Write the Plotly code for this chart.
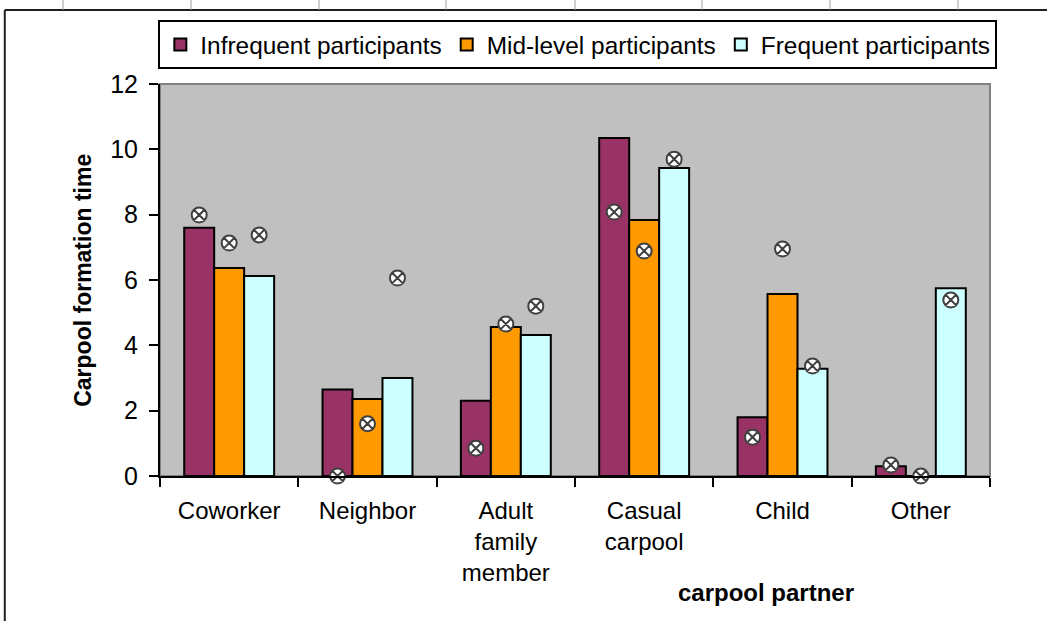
import plotly.graph_objects as go

# categories and values
partners = ["Coworker", "Neighbor", "Adult<br>family<br>member", "Casual<br>carpool", "Child", "Other"]
series_names = ["Infrequent participants", "Mid-level participants", "Frequent participants"]

infrequent_bar = [7.6, 2.65, 2.3, 10.35, 1.8, 0.3]
midlevel_bar = [6.37, 2.36, 4.56, 7.84, 5.57, 0.0]
frequent_bar = [6.12, 3.0, 4.32, 9.43, 3.28, 5.75]

infrequent_pt = [7.99, 0.0, 0.85, 8.08, 1.19, 0.34]
midlevel_pt = [7.13, 1.6, 4.65, 6.89, 6.95, 0.0]
frequent_pt = [7.38, 6.06, 5.2, 9.7, 3.37, 5.39]

colors = ["#993366", "#FF9900", "#CCFFFF"]
FONT = "Liberation Sans, Arial, sans-serif"

fig = go.Figure()

bars = [infrequent_bar, midlevel_bar, frequent_bar]
points = [infrequent_pt, midlevel_pt, frequent_pt]

for i in range(3):
    fig.add_trace(
        go.Bar(
            x=partners,
            y=bars[i],
            name=series_names[i],
            offsetgroup=str(i),
            marker=dict(color=colors[i], line=dict(color="black", width=2)),
        )
    )

for i in range(3):
    fig.add_trace(
        go.Scatter(
            x=partners,
            y=points[i],
            mode="markers",
            offsetgroup=str(i),
            showlegend=False,
            cliponaxis=False,
            marker=dict(symbol="circle-x", size=15, color="white",
                        line=dict(color="#404040", width=2)),
        )
    )

# decorative outer frame like the original sheet
shapes = [
    dict(type="rect", xref="paper", yref="paper", x0=0, x1=1, y0=0, y1=1,
         line=dict(color="#808080", width=2), layer="below"),
    dict(type="line", xref="paper", yref="paper", x0=-0.187, x1=1.07, y0=1.189, y1=1.189,
         line=dict(color="#202020", width=2)),
    dict(type="line", xref="paper", yref="paper", x0=-0.187, x1=-0.187, y0=1.189, y1=-0.38,
         line=dict(color="#202020", width=2)),
]
for px in [63, 191, 319, 446, 575, 702, 830, 958]:
    xp = (px - 160) / 830
    shapes.append(dict(type="line", xref="paper", yref="paper", x0=xp, x1=xp, y0=1.189, y1=1.215,
                       line=dict(color="#a0a0a0", width=1)))

fig.update_layout(
    width=1047,
    height=621,
    margin=dict(l=160, r=57, t=84, b=145),
    paper_bgcolor="white",
    plot_bgcolor="#C0C0C0",
    font=dict(family=FONT, size=24, color="black"),
    barmode="group",
    bargap=0.35,
    bargroupgap=0,
    scattermode="group",
    scattergap=0.35,
    showlegend=True,
    legend=dict(
        orientation="h",
        x=-0.002, y=1.163, xanchor="left", yanchor="top",
        bgcolor="white", bordercolor="black", borderwidth=2,
        font=dict(family=FONT, size=24.4),
        itemwidth=30,
    ),
    shapes=shapes,
    annotations=[
        dict(text="<b>Carpool formation time</b>", textangle=-90, xref="paper", yref="paper",
             x=-0.093, y=0.5, xanchor="center", yanchor="middle",
             showarrow=False, font=dict(family=FONT, size=23)),
        dict(text="<b>carpool partner</b>", xref="paper", yref="paper",
             x=0.73, y=-0.296, xanchor="center", yanchor="middle",
             showarrow=False, font=dict(family=FONT, size=24)),
    ],
)

fig.update_xaxes(
    type="category",
    tickson="boundaries",
    ticks="outside", ticklen=9, tickwidth=2, tickcolor="black",
    showline=True, linecolor="black", linewidth=2,
    showgrid=False,
    ticklabelstandoff=12,
    tickfont=dict(family=FONT, size=24),
)
fig.update_yaxes(
    range=[0, 12], dtick=2,
    ticks="outside", ticklen=9, tickwidth=2, tickcolor="black",
    showline=True, linecolor="black", linewidth=2,
    showgrid=False, zeroline=False,
    ticklabelstandoff=6,
    tickfont=dict(family=FONT, size=25),
)

# the page gets no body margin so the figure sits at the window origin
fig.write_html("out.html", config={"displayModeBar": False},
               post_script="document.body.style.margin='0';")
